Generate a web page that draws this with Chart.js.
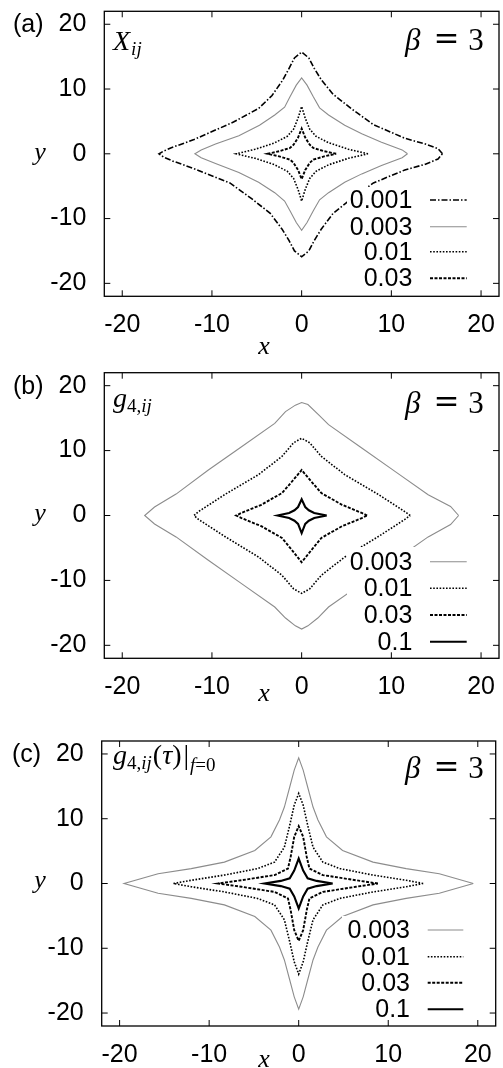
<!DOCTYPE html>
<html>
<head>
<meta charset="utf-8">
<script src="https://cdn.jsdelivr.net/npm/chart.js@4.4.0/dist/chart.umd.min.js"></script>
<style>
body { margin: 0; background: #fff; }
.panel { position: absolute; left: 0; width: 503px; height: 356px; }
</style>
</head>
<body>
<div class="panel" style="top:0px"><canvas id="ca" width="503" height="356"></canvas></div>
<div class="panel" style="top:356px"><canvas id="cb" width="503" height="356"></canvas></div>
<div class="panel" style="top:712px"><canvas id="cc" width="503" height="356"></canvas></div>
<script>
// tick labels
var xTicks = [-20, -10, 0, 10, 20];
var yTicks = [-20, -10, 0, 10, 20];

// contour levels shown in each panel
var levelsA = ['0.001', '0.003', '0.01', '0.03'];
var levelsB = ['0.003', '0.01', '0.03', '0.1'];
var levelsC = ['0.003', '0.01', '0.03', '0.1'];

// (a) X_ij contours, [x, y]
var a001 = [
  [15.7,0],[15.2,0.8],[13.8,1.5],[11.5,2.4],[8.0,4.5],[5.5,7.0],[3.5,9.2],[2.2,11.4],[1.4,13.2],[0.8,14.8],[0,15.7],
  [-0.8,14.8],[-1.4,13.2],[-2.1,11.4],[-3.3,9.0],[-4.8,7.0],[-7.6,4.9],[-12.0,2.2],[-14.6,0.9],[-15.4,0.4],[-15.9,0],
  [-15.4,-0.5],[-14.4,-1.1],[-12.0,-2.3],[-8.0,-4.5],[-5.5,-7.0],[-3.5,-9.2],[-2.2,-11.6],[-1.4,-13.4],[-0.8,-15.0],[0,-15.9],
  [0.8,-15.0],[1.4,-13.4],[2.2,-11.6],[3.5,-9.2],[5.5,-7.0],[8.0,-4.5],[11.5,-2.5],[13.8,-1.6],[15.2,-0.8],[15.7,0]
];
var a003 = [
  [11.8,0],[11.2,0.6],[8.9,1.8],[6.7,3.1],[4.8,4.4],[3.0,6.0],[2.0,7.1],[1.3,8.8],[0.6,10.6],[0,11.7],
  [-0.6,10.6],[-1.3,8.8],[-1.9,7.2],[-3.0,6.0],[-4.7,4.4],[-7.0,2.8],[-9.6,1.5],[-11.2,0.6],[-11.9,0],
  [-11.2,-0.6],[-9.6,-1.5],[-7.0,-2.9],[-4.8,-4.4],[-3.0,-6.0],[-1.9,-7.3],[-1.3,-8.8],[-0.6,-10.6],[0,-11.8],
  [0.6,-10.6],[1.3,-8.8],[2.0,-7.1],[3.0,-6.0],[4.8,-4.4],[6.7,-3.1],[8.9,-1.8],[11.2,-0.6],[11.8,0]
];
var a01 = [
  [7.4,0],[5.2,0.7],[3.0,1.7],[1.6,2.7],[0.9,3.8],[0.4,5.5],[0,7.3],
  [-0.4,5.5],[-0.9,3.8],[-1.6,2.7],[-3.0,1.7],[-5.2,0.7],[-7.3,0],
  [-5.2,-0.7],[-3.0,-1.7],[-1.6,-2.7],[-0.9,-3.8],[-0.4,-5.5],[0,-7.3],
  [0.4,-5.5],[0.9,-3.8],[1.6,-2.7],[3.0,-1.7],[5.2,-0.7],[7.4,0]
];
var a03 = [
  [3.85,0],[2.5,0.4],[1.3,0.9],[0.9,1.4],[0.4,2.5],[0,3.9],
  [-0.4,2.5],[-0.9,1.4],[-1.3,0.9],[-2.5,0.4],[-3.8,0],
  [-2.5,-0.4],[-1.3,-0.9],[-0.9,-1.4],[-0.4,-2.5],[0,-3.9],
  [0.4,-2.5],[0.9,-1.4],[1.3,-0.9],[2.5,-0.4],[3.85,0]
];

// (b) g_4,ij contours
var b003 = [
  [17.5,0],[16.6,1.4],[14.1,3.2],[10.4,6.8],[6.7,10.4],[3.0,14.0],[1.9,15.5],[0.7,17.1],[0,17.4],
  [-0.7,17.0],[-1.8,16.0],[-3.0,14.2],[-6.7,10.6],[-10.4,7.0],[-14.0,3.3],[-16.4,1.3],[-17.5,0],
  [-16.4,-1.3],[-14.0,-3.3],[-10.4,-6.9],[-6.7,-10.5],[-3.0,-14.1],[-1.8,-15.8],[-0.7,-17.0],[0,-17.5],
  [0.7,-17.0],[1.8,-15.8],[3.0,-14.1],[6.7,-10.5],[10.4,-6.9],[14.1,-3.3],[16.6,-1.4],[17.5,0]
];
var b01 = [
  [12.1,0],[11.5,0.6],[8.6,3.2],[4.8,6.3],[2.2,9.1],[0.9,11.2],[0,11.9],
  [-0.9,11.2],[-2.2,9.1],[-4.8,6.3],[-8.6,3.2],[-11.5,0.6],[-12.0,0],
  [-11.5,-0.6],[-8.6,-3.2],[-4.8,-6.4],[-2.2,-9.2],[-0.9,-11.3],[0,-12.0],
  [0.9,-11.3],[2.2,-9.2],[4.8,-6.4],[8.6,-3.2],[11.5,-0.6],[12.1,0]
];
var b03 = [
  [7.3,0],[6.7,0.4],[4.5,1.65],[2.2,3.45],[1.1,5.2],[0,7.0],
  [-1.1,5.2],[-2.2,3.45],[-4.5,1.65],[-6.7,0.4],[-7.3,0],
  [-6.7,-0.4],[-4.5,-1.65],[-2.2,-3.45],[-1.1,-5.3],[0,-7.2],
  [1.1,-5.3],[2.2,-3.45],[4.5,-1.65],[6.7,-0.4],[7.3,0]
];
var b1 = [
  [2.8,0],[1.4,0.4],[0.8,0.8],[0.4,1.3],[0,2.5],
  [-0.4,1.3],[-0.8,0.8],[-1.4,0.4],[-2.7,0],
  [-1.4,-0.4],[-0.8,-0.8],[-0.4,-1.3],[0,-2.7],
  [0.4,-1.3],[0.8,-0.8],[1.4,-0.4],[2.8,0]
];

// (c) g_4,ij(tau) at f=0 contours
var c003 = [
  [19.5,0],[15.7,1.5],[12.0,2.3],[8.3,3.3],[4.9,5.1],[3.1,7.2],[2.15,9.8],[1.6,11.8],[1.0,14.9],[0.5,17.5],[0,19.4],
  [-0.5,17.5],[-1.0,14.9],[-1.6,11.8],[-2.15,9.8],[-3.1,7.2],[-4.9,5.1],[-8.3,3.3],[-12.0,2.3],[-15.7,1.5],[-19.5,0],
  [-15.7,-1.5],[-12.0,-2.3],[-8.3,-3.3],[-4.9,-5.1],[-3.1,-7.2],[-2.15,-9.8],[-1.6,-11.8],[-1.0,-14.9],[-0.5,-17.5],[0,-19.4],
  [0.5,-17.5],[1.0,-14.9],[1.6,-11.8],[2.15,-9.8],[3.1,-7.2],[4.9,-5.1],[8.3,-3.3],[12.0,-2.3],[15.7,-1.5],[19.5,0]
];
var c01 = [
  [13.9,0],[12.0,0.5],[8.3,1.3],[4.6,2.3],[2.7,3.3],[1.6,5.6],[1.0,9.0],[0.5,12.1],[0,13.9],
  [-0.5,12.1],[-1.0,9.0],[-1.6,5.6],[-2.7,3.3],[-4.6,2.3],[-8.3,1.3],[-12.0,0.5],[-14.0,0],
  [-12.0,-0.5],[-8.3,-1.3],[-4.6,-2.3],[-2.7,-3.3],[-1.6,-5.6],[-1.0,-9.0],[-0.5,-12.1],[0,-14.0],
  [0.5,-12.1],[1.0,-9.0],[1.6,-5.6],[2.7,-3.3],[4.6,-2.3],[8.3,-1.3],[12.0,-0.5],[13.9,0]
];
var c03 = [
  [8.85,0],[6.4,0.5],[2.7,1.3],[1.2,2.3],[0.9,4.1],[0.5,7.2],[0,8.85],
  [-0.5,7.2],[-0.9,4.1],[-1.2,2.3],[-2.7,1.3],[-6.4,0.5],[-9.0,0],
  [-6.4,-0.5],[-2.7,-1.3],[-1.2,-2.3],[-0.9,-4.1],[-0.5,-7.2],[0,-8.85],
  [0.5,-7.2],[0.9,-4.1],[1.2,-2.3],[2.7,-1.3],[6.4,-0.5],[8.85,0]
];
var c1 = [
  [3.8,0],[2.0,0.4],[1.0,0.8],[0.5,2.0],[0,3.85],
  [-0.5,2.0],[-1.0,0.8],[-2.0,0.4],[-3.8,0],
  [-2.0,-0.4],[-1.0,-0.8],[-0.5,-2.0],[0,-3.85],
  [0.5,-2.0],[1.0,-0.8],[2.0,-0.4],[3.8,0]
];

// gnuplot-ish line styles per level
var lineStyle = {
  '0.001': { color: '#000', width: 1.6, dash: [6, 2, 1.5, 2] },
  '0.003': { color: '#8c8c8c', width: 1.1, dash: [] },
  '0.01':  { color: '#000', width: 1.6, dash: [1.6, 1.6] },
  '0.03':  { color: '#000', width: 1.9, dash: [3, 1.5] },
  '0.1':   { color: '#000', width: 2.1, dash: [] }
};

var sans = '"Liberation Sans", Arial, sans-serif';
var serif = '"Liberation Serif", "Times New Roman", serif';

function drawParts(ctx, parts, x, y) {
  parts.forEach(function(p) {
    ctx.font = (p.it ? 'italic ' : '') + p.s + 'px ' + (p.f || serif);
    ctx.fillText(p.t, x, y + (p.dy || 0));
    x += ctx.measureText(p.t).width + (p.gap || 0);
  });
}

function noPad(s) {
  s.paddingTop = 0; s.paddingBottom = 0; s.paddingLeft = 0; s.paddingRight = 0;
}

function makePanel(id, cfg) {
  var datasets = cfg.levels.map(function(lv, i) {
    var st = lineStyle[lv];
    return {
      label: lv,
      data: cfg.series[i].map(function(p) { return { x: p[0], y: p[1] }; }),
      showLine: true,
      pointRadius: 0,
      borderColor: st.color,
      borderWidth: st.width,
      borderDash: st.dash,
      fill: false,
      tension: 0
    };
  });

  var deco = {
    id: 'deco',
    afterDatasetsDraw: function(chart) {
      var ctx = chart.ctx, a = chart.chartArea;
      var xs = chart.scales.x, ys = chart.scales.y;
      var lg = cfg.legend;
      ctx.save();
      // opaque key box
      ctx.fillStyle = '#fff';
      ctx.fillRect(lg.box[0], lg.box[1], lg.box[2] - lg.box[0], lg.box[3] - lg.box[1]);
      ctx.font = '25px ' + sans;
      ctx.textAlign = 'right';
      ctx.textBaseline = 'middle';
      cfg.levels.forEach(function(lv, i) {
        var st = lineStyle[lv];
        var yy = lg.rows[i];
        ctx.fillStyle = '#000';
        ctx.fillText(lv, lg.textRight, yy + 1);
        ctx.strokeStyle = st.color;
        ctx.lineWidth = st.width;
        ctx.setLineDash(st.dash);
        ctx.beginPath();
        ctx.moveTo(lg.x0, yy);
        ctx.lineTo(lg.x1, yy);
        ctx.stroke();
      });
      ctx.setLineDash([]);
      // frame with inward ticks on all sides
      ctx.strokeStyle = '#000';
      ctx.lineWidth = 1.3;
      ctx.strokeRect(a.left, a.top, a.right - a.left, a.bottom - a.top);
      ctx.lineWidth = 1;
      ctx.beginPath();
      xTicks.forEach(function(v) {
        var px = xs.getPixelForValue(v);
        ctx.moveTo(px, a.bottom); ctx.lineTo(px, a.bottom - 6);
        ctx.moveTo(px, a.top); ctx.lineTo(px, a.top + 6);
      });
      yTicks.forEach(function(v) {
        var py = ys.getPixelForValue(v);
        ctx.moveTo(a.left, py); ctx.lineTo(a.left + 6, py);
        ctx.moveTo(a.right, py); ctx.lineTo(a.right - 6, py);
      });
      ctx.stroke();
      ctx.restore();
    },
    afterDraw: function(chart) {
      var ctx = chart.ctx;
      ctx.save();
      ctx.fillStyle = '#000';
      ctx.textAlign = 'left';
      // panel tag
      ctx.font = '25px ' + sans;
      ctx.textBaseline = 'middle';
      ctx.fillText(cfg.tag, cfg.tagX, cfg.tagY);
      ctx.textBaseline = 'alphabetic';
      // quantity name
      drawParts(ctx, cfg.title, 113, cfg.titleY);
      // beta = 3
      ctx.font = 'italic 31px ' + serif;
      ctx.fillText('\u03b2', 405, cfg.betaY);
      ctx.textAlign = 'center';
      ctx.font = '31px "DejaVu Serif", serif';
      ctx.fillText('=', 446.5, cfg.betaY - 1);
      ctx.font = '31px ' + serif;
      ctx.fillText('3', 476, cfg.betaY);
      // axis names
      ctx.font = 'italic 26px ' + serif;
      ctx.fillText('x', 264, cfg.xLabY);
      ctx.fillText('y', 40, cfg.yLabY);
      ctx.restore();
    }
  };

  var tickFont = { family: sans, size: 25 };
  return new Chart(document.getElementById(id), {
    type: 'scatter',
    data: { datasets: datasets },
    options: {
      responsive: false,
      animation: false,
      devicePixelRatio: 1,
      layout: { padding: cfg.pad },
      plugins: { legend: { display: false }, tooltip: { enabled: false } },
      scales: {
        x: {
          type: 'linear', min: -22, max: 22,
          afterBuildTicks: function(s) { s.ticks = xTicks.map(function(v) { return { value: v }; }); },
          afterFit: function(s) { s.height = 40; noPad(s); },
          grid: { display: false, drawTicks: false },
          border: { display: false },
          ticks: { color: '#000', font: tickFont, padding: 14, maxRotation: 0, autoSkip: false }
        },
        y: {
          type: 'linear', min: -22, max: 22,
          afterBuildTicks: function(s) { s.ticks = yTicks.map(function(v) { return { value: v }; }); },
          afterFit: function(s) { s.width = 70; noPad(s); },
          grid: { display: false, drawTicks: false },
          border: { display: false },
          ticks: { color: '#000', font: tickFont, padding: 18, autoSkip: false }
        }
      }
    },
    plugins: [deco]
  });
}

makePanel('ca', {
  levels: levelsA,
  series: [a001, a003, a01, a03],
  pad: { left: 34.3, right: 4, top: 11.3, bottom: 19.7 },
  legend: { rows: [200, 226.7, 251.7, 278.3], textRight: 412.3, x0: 430, x1: 466.7, box: [347, 187, 476, 292] },
  tag: '(a)', tagX: 13, tagY: 25,
  title: [{ t: 'X', s: 28, it: true, gap: 1 }, { t: 'ij', s: 19, it: true, dy: 5 }],
  titleY: 50, betaY: 50, xLabY: 354, yLabY: 160
});

makePanel('cb', {
  levels: levelsB,
  series: [b003, b01, b03, b1],
  pad: { left: 34.3, right: 4, top: 16.7, bottom: 13.7 },
  legend: { rows: [205.7, 232.3, 259, 285.7], textRight: 412.3, x0: 430, x1: 466.7, box: [347, 191, 476, 298] },
  tag: '(b)', tagX: 13, tagY: 30.7,
  title: [{ t: 'g', s: 28, it: true }, { t: '4', s: 19, dy: 5 }, { t: ',', s: 19, dy: 5 }, { t: 'ij', s: 19, it: true, dy: 5 }],
  titleY: 51, betaY: 57.3, xLabY: 345, yLabY: 165
});

makePanel('cc', {
  levels: levelsC,
  series: [c003, c01, c03, c1],
  pad: { left: 31.7, right: 7.3, top: 29, bottom: 2 },
  legend: { rows: [218, 244.7, 270.7, 297.3], textRight: 410, x0: 427.7, x1: 463.3, box: [342, 204, 472, 311] },
  tag: '(c)', tagX: 12, tagY: 43,
  title: [{ t: 'g', s: 28, it: true }, { t: '4', s: 19, dy: 5 }, { t: ',', s: 19, dy: 5 }, { t: 'ij', s: 19, it: true, dy: 5, gap: 1 },
          { t: '(', s: 28 }, { t: '\u03c4', s: 28, it: true }, { t: ')', s: 28, gap: 2 }, { t: '|', s: 28, gap: 1 },
          { t: 'f', s: 19, it: true, dy: 7 }, { t: '=', s: 19, dy: 7 }, { t: '0', s: 19, dy: 7 }],
  titleY: 52, betaY: 66.3, xLabY: 355, yLabY: 175.5
});
</script>
</body>
</html>
